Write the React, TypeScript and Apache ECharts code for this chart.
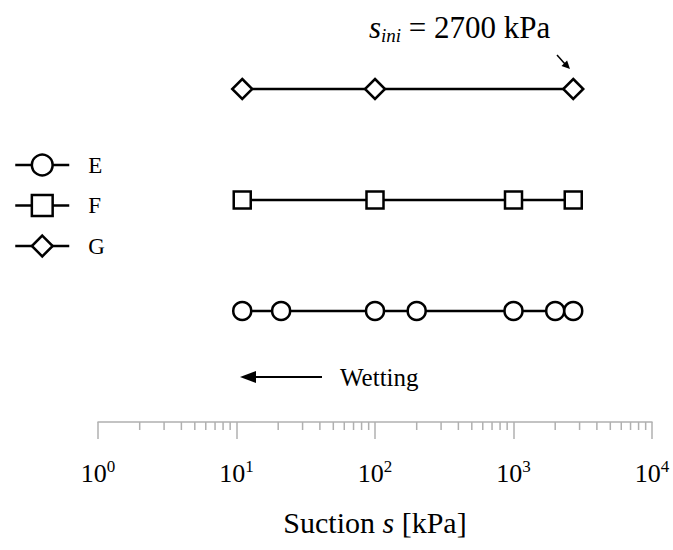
import React, { useEffect, useRef } from "react";
import * as echarts from "echarts";

// Suction steps (kPa) applied to each specimen along the wetting path
const seriesNames = ["E", "F", "G"];
const suctionE = [11, 21, 100, 200, 1000, 2000, 2700];
const suctionF = [11, 100, 1000, 2700];
const suctionG = [11, 100, 2700];
// Row on which each specimen is drawn
const rowE = 1;
const rowF = 2;
const rowG = 3;
// Intermediate (minor) ticks of the logarithmic suction axis
const minorTicks = [
  2, 3, 4, 5, 6, 7, 8, 9,
  20, 30, 40, 50, 60, 70, 80, 90,
  200, 300, 400, 500, 600, 700, 800, 900,
  2000, 3000, 4000, 5000, 6000, 7000, 8000, 9000,
];

const FONT = "'Liberation Serif', 'Times New Roman', serif";

export default function App() {
  const ref = useRef<HTMLDivElement>(null);

  useEffect(() => {
    if (!ref.current) return;
    const chart = echarts.init(ref.current, null, { renderer: "svg" });

    const symbolStyle = {
      color: "#ffffff",
      borderColor: "#000000",
      borderWidth: 2.5,
    };
    const lineSeries = (name: string, xs: number[], row: number, symbol: string, size: number) => ({
      name,
      type: "line",
      data: xs.map((x) => [x, row]),
      symbol,
      symbolSize: size,
      showAllSymbol: true,
      lineStyle: { color: "#000000", width: 2.5 },
      itemStyle: symbolStyle,
      z: 3,
    });

    chart.setOption({
      animation: false,
      backgroundColor: "#ffffff",
      textStyle: { fontFamily: FONT },
      grid: { left: 98, right: 21, top: 33.5, bottom: 128 },
      legend: {
        data: seriesNames,
        orient: "vertical",
        left: 9,
        top: 147,
        itemWidth: 54,
        itemHeight: 26,
        itemGap: 14.5,
        lineStyle: { width: 2.5, color: "#000000" },
        itemStyle: { color: "#ffffff", borderColor: "#000000", borderWidth: 2.5 },
        textStyle: {
          fontFamily: FONT,
          fontSize: 23,
          lineHeight: 26,
          color: "#000000",
          padding: [0, 0, 0, 14],
        },
        selectedMode: false,
      },
      xAxis: {
        type: "log",
        logBase: 10,
        min: 1,
        max: 10000,
        name: "{n|Suction }{i|s}{n| [kPa]}",
        nameLocation: "middle",
        nameGap: 85,
        nameTextStyle: {
          rich: {
            n: { fontFamily: FONT, fontSize: 30, color: "#000000" },
            i: { fontFamily: FONT, fontSize: 30, fontStyle: "italic", color: "#000000" },
          },
        },
        axisLine: { show: true, lineStyle: { color: "#b0b0b0", width: 1.5 } },
        axisTick: { show: true, inside: false, length: 17, lineStyle: { color: "#b0b0b0", width: 1.5 } },
        splitLine: { show: false },
        minorTick: { show: false },
        axisLabel: {
          margin: 36,
          formatter: (v: number) => `{b|10}{sup|${Math.round(Math.log10(v))}}`,
          rich: {
            b: { fontFamily: FONT, fontSize: 26, color: "#000000", lineHeight: 30 },
            sup: { fontFamily: FONT, fontSize: 17, color: "#000000", lineHeight: 15, verticalAlign: "top" },
          },
        },
      },
      yAxis: {
        type: "value",
        min: 0,
        max: 3.5,
        show: false,
      },
      series: [
        lineSeries("E", suctionE, rowE, "circle", 18),
        lineSeries("F", suctionF, rowF, "rect", 17),
        lineSeries("G", suctionG, rowG, "diamond", 20),
        {
          name: "minor ticks",
          type: "custom",
          data: minorTicks.map((v) => [v, 0]),
          clip: false,
          silent: true,
          renderItem: (_params: any, api: any) => {
            const p = api.coord([api.value(0), api.value(1)]);
            return {
              type: "line",
              shape: { x1: p[0], y1: p[1], x2: p[0], y2: p[1] + 8 },
              style: { stroke: "#b0b0b0", lineWidth: 1.5 },
            };
          },
          z: 1,
        },
      ],
      graphic: [
        {
          type: "text",
          x: 369,
          y: 27,
          style: {
            text: "{s|s}{sub|ini}{n| = 2700 kPa}",
            verticalAlign: "middle",
            rich: {
              s: { fontFamily: FONT, fontSize: 31, fontStyle: "italic", color: "#000000", lineHeight: 36 },
              sub: { fontFamily: FONT, fontSize: 19, fontStyle: "italic", color: "#000000", lineHeight: 18, verticalAlign: "bottom" },
              n: { fontFamily: FONT, fontSize: 31, color: "#000000", lineHeight: 36 },
            },
          },
        },
        {
          type: "line",
          shape: { x1: 557, y1: 55, x2: 565, y2: 64 },
          style: { stroke: "#000000", lineWidth: 1.5 },
        },
        {
          type: "polygon",
          shape: { points: [[570, 69], [561.5, 66.1], [567.1, 60.5]] },
          style: { fill: "#000000" },
        },
        {
          type: "line",
          shape: { x1: 322, y1: 377, x2: 252, y2: 377 },
          style: { stroke: "#000000", lineWidth: 2 },
        },
        {
          type: "polygon",
          shape: { points: [[240, 377], [256, 371], [256, 383]] },
          style: { fill: "#000000" },
        },
        {
          type: "text",
          x: 340,
          y: 377,
          style: {
            text: "Wetting",
            font: `25px ${FONT}`,
            fill: "#000000",
            verticalAlign: "middle",
          },
        },
      ],
    });

    return () => chart.dispose();
  }, []);

  return (
    <div
      ref={ref}
      style={{ position: "fixed", left: 0, top: 0, width: 673, height: 550 }}
    />
  );
}
